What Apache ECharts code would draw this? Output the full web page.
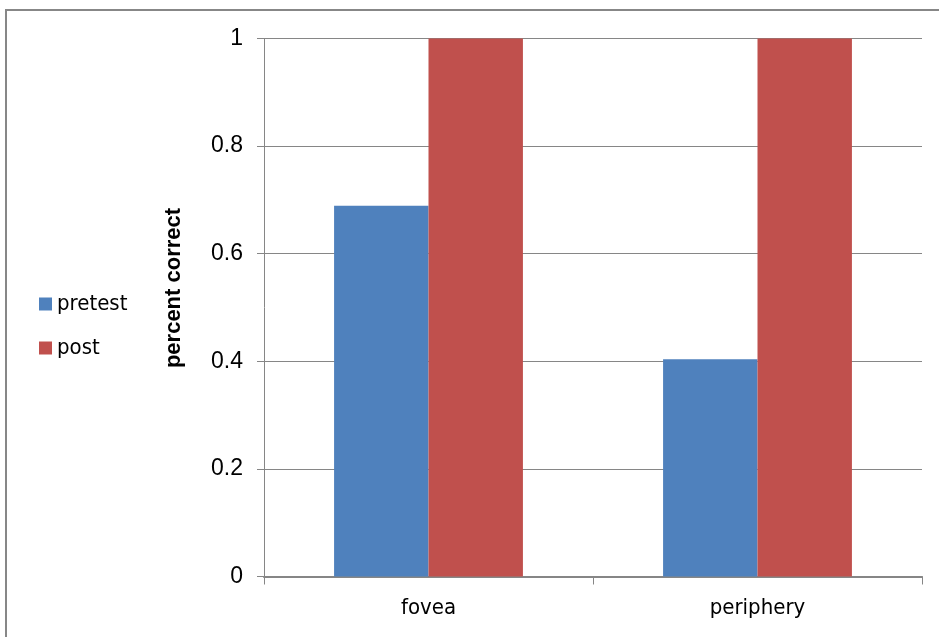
<!DOCTYPE html>
<html><head><meta charset="utf-8">
<script src="https://cdn.jsdelivr.net/npm/echarts@6/dist/echarts.min.js"></script>
<style>html,body{margin:0;padding:0;background:#fff}#c{width:939px;height:637px}</style>
</head><body><div id="c"></div>
<script>
const categories = ['fovea', 'periphery'];
const pretest = [0.689, 0.404];
const post = [1, 1];
const yTicks = [0, 0.2, 0.4, 0.6, 0.8, 1];
const yTitle = 'percent correct';

const chart = echarts.init(document.getElementById('c'));
const narrow = '"DejaVu Sans Condensed", "Liberation Sans", sans-serif';
const regular = '"Liberation Sans", sans-serif';
chart.setOption({
  animation: false,
  backgroundColor: '#fff',
  graphic: [{
    type: 'polyline',
    shape: { points: [[6, 640], [6, 10], [945, 10]] },
    style: { stroke: '#878787', lineWidth: 2, fill: null }
  }, {
    type: 'text', x: 174, y: 288, rotation: Math.PI / 2,
    style: { text: yTitle, fontFamily: regular, fontSize: 22, fontWeight: 'bold', fill: '#000', align: 'center', verticalAlign: 'middle' }
  }],
  grid: { left: 264, right: 17, top: 38.5, bottom: 60.5 },
  legend: {
    orient: 'vertical', left: 34, top: 288, itemGap: 22,
    itemWidth: 13, itemHeight: 13, icon: 'rect',
    textStyle: { fontFamily: narrow, fontSize: 22, color: '#000', padding: [0, 0, 0, 0] },
    data: ['pretest', 'post']
  },
  xAxis: {
    type: 'category', data: categories,
    axisLine: { lineStyle: { color: '#868686', width: 2 } },
    axisTick: { show: true, length: 8, alignWithLabel: false, lineStyle: { color: '#868686' } },
    axisLabel: { fontFamily: narrow, fontSize: 22, color: '#000', margin: 21 }
  },
  yAxis: {
    type: 'value', min: 0, max: 1, interval: 0.2,
    axisLine: { show: true, lineStyle: { color: '#868686', width: 1 } },
    axisTick: { show: true, length: 7, inside: false, lineStyle: { color: '#868686' } },
    axisLabel: { fontFamily: regular, fontSize: 23, color: '#000', margin: 21,
      formatter: v => { const t = yTicks.find(x => Math.abs(x - v) < 1e-9); return t === undefined ? '' : String(t); } },
    splitLine: { lineStyle: { color: '#868686', width: 1 } }
  },
  series: [
    { name: 'pretest', type: 'bar', data: pretest, itemStyle: { color: '#4f81bd' }, barGap: '0%', barCategoryGap: '42.6%' },
    { name: 'post', type: 'bar', data: post, itemStyle: { color: '#c0504d' }, barGap: '0%', barCategoryGap: '42.6%' }
  ]
});
</script></body></html>
